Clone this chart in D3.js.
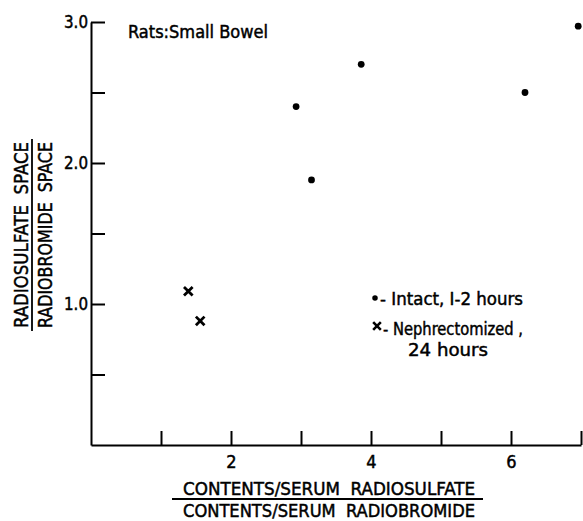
<!DOCTYPE html>
<html>
<head>
  <meta charset="utf-8">
  <title>Rats: Small Bowel</title>
  <script src="https://d3js.org/d3.v7.min.js"></script>
  <style>
    body { margin: 0; background: #fff; }
    text { font-family: "DejaVu Sans Condensed", "DejaVu Sans", sans-serif; fill: #000; stroke: #000; stroke-width: 0.45px; white-space: pre; }
  </style>
</head>
<body>
  <script>
    // data
    var intactX = [2.93, 3.15, 3.86, 6.20, 6.96];
    var intactY = [2.40, 1.88, 2.70, 2.50, 2.97];
    var nephX = [1.39, 1.56];
    var nephY = [1.09, 0.88];
    var xTicks = [1, 2, 3, 4, 5, 6, 7];
    var xTickLabels = ['', '2', '', '4', '', '6', ''];
    var yTicks = [0.5, 1, 1.5, 2, 2.5, 3];
    var yTickLabels = ['', '1.0', '', '2.0', '', '3.0'];

    var width = 583, height = 521;
    var svg = d3.select('body').append('svg')
      .attr('width', width)
      .attr('height', height);

    var x = d3.scaleLinear().domain([0, 7]).range([91, 581]);
    var y = d3.scaleLinear().domain([0, 3]).range([445, 22]);

    // axes, ticks pointing inward
    var xAxis = d3.axisBottom(x)
      .tickValues(xTicks)
      .tickSizeInner(-14).tickSizeOuter(0)
      .tickPadding(10)
      .tickFormat(function(d, i) { return xTickLabels[i]; });
    var gx = svg.append('g')
      .attr('transform', 'translate(0,' + y(0) + ')')
      .call(xAxis);

    var yAxis = d3.axisLeft(y)
      .tickValues(yTicks)
      .tickSizeInner(-14).tickSizeOuter(0)
      .tickPadding(3)
      .tickFormat(function(d, i) { return yTickLabels[i]; });
    var gy = svg.append('g')
      .attr('transform', 'translate(' + x(0) + ',0)')
      .call(yAxis);

    [gx, gy].forEach(function(g) {
      g.select('.domain').attr('stroke', '#000').attr('stroke-width', 2);
      g.selectAll('.tick line').attr('stroke', '#000').attr('stroke-width', 2);
      g.selectAll('.tick text').style('font-size', '18px').attr('fill', '#000');
    });
    gy.selectAll('.tick text').attr('textLength', 24).attr('lengthAdjust', 'spacingAndGlyphs');

    // points
    var dot = d3.symbol().type(d3.symbolCircle).size(36);
    var cross = d3.symbol().type(d3.symbolX).size(50);

    svg.selectAll('.intact')
      .data(d3.range(intactX.length))
      .enter().append('path')
      .attr('class', 'intact')
      .attr('d', dot)
      .attr('fill', '#000')
      .attr('transform', function(i) { return 'translate(' + x(intactX[i]) + ',' + y(intactY[i]) + ')'; });

    svg.selectAll('.neph')
      .data(d3.range(nephX.length))
      .enter().append('path')
      .attr('class', 'neph')
      .attr('d', cross)
      .attr('fill', 'none')
      .attr('stroke', '#000')
      .attr('stroke-width', 2.8)
      .attr('transform', function(i) { return 'translate(' + x(nephX[i]) + ',' + y(nephY[i]) + ')'; });

    // title
    svg.append('text')
      .attr('x', 128).attr('y', 38)
      .style('font-size', '18px')
      .attr('textLength', 140).attr('lengthAdjust', 'spacingAndGlyphs')
      .text('Rats:Small Bowel');

    // legend
    svg.append('path').attr('d', d3.symbol().type(d3.symbolCircle).size(24))
      .attr('transform', 'translate(375,298)');
    svg.append('text').attr('x', 380).attr('y', 305)
      .style('font-size', '18px')
      .attr('textLength', 143).attr('lengthAdjust', 'spacingAndGlyphs')
      .text('- Intact, I-2 hours');
    svg.append('path').attr('d', d3.symbol().type(d3.symbolX).size(40))
      .attr('fill', 'none').attr('stroke', '#000').attr('stroke-width', 2.6)
      .attr('transform', 'translate(377,326)');
    svg.append('text').attr('x', 383).attr('y', 335)
      .style('font-size', '18px')
      .attr('textLength', 140).attr('lengthAdjust', 'spacingAndGlyphs')
      .text('- Nephrectomized ,');
    svg.append('text').attr('x', 448).attr('y', 356)
      .attr('text-anchor', 'middle')
      .style('font-size', '18px')
      .attr('textLength', 80).attr('lengthAdjust', 'spacingAndGlyphs')
      .text('24 hours');

    // x axis title as a fraction
    var xt = svg.append('g');
    xt.append('text').attr('x', 329).attr('y', 495)
      .attr('text-anchor', 'middle').style('font-size', '18px')
      .attr('textLength', 292).attr('lengthAdjust', 'spacingAndGlyphs')
      .text('CONTENTS/SERUM  RADIOSULFATE');
    xt.append('line').attr('x1', 172).attr('x2', 483)
      .attr('y1', 499).attr('y2', 499)
      .attr('stroke', '#000').attr('stroke-width', 1.8);
    xt.append('text').attr('x', 329).attr('y', 517)
      .attr('text-anchor', 'middle').style('font-size', '18px')
      .attr('textLength', 292).attr('lengthAdjust', 'spacingAndGlyphs')
      .text('CONTENTS/SERUM  RADIOBROMIDE');

    // y axis title as a fraction, rotated
    var yt = svg.append('g').attr('transform', 'translate(0,235) rotate(-90)');
    yt.append('text').attr('x', 0).attr('y', 28)
      .attr('text-anchor', 'middle').style('font-size', '20px')
      .attr('textLength', 186).attr('lengthAdjust', 'spacingAndGlyphs')
      .text('RADIOSULFATE  SPACE');
    yt.append('line').attr('x1', -96).attr('x2', 96)
      .attr('y1', 32).attr('y2', 32)
      .attr('stroke', '#000').attr('stroke-width', 1.8);
    yt.append('text').attr('x', 0).attr('y', 52)
      .attr('text-anchor', 'middle').style('font-size', '20px')
      .attr('textLength', 186).attr('lengthAdjust', 'spacingAndGlyphs')
      .text('RADIOBROMIDE  SPACE');
  </script>
</body>
</html>
